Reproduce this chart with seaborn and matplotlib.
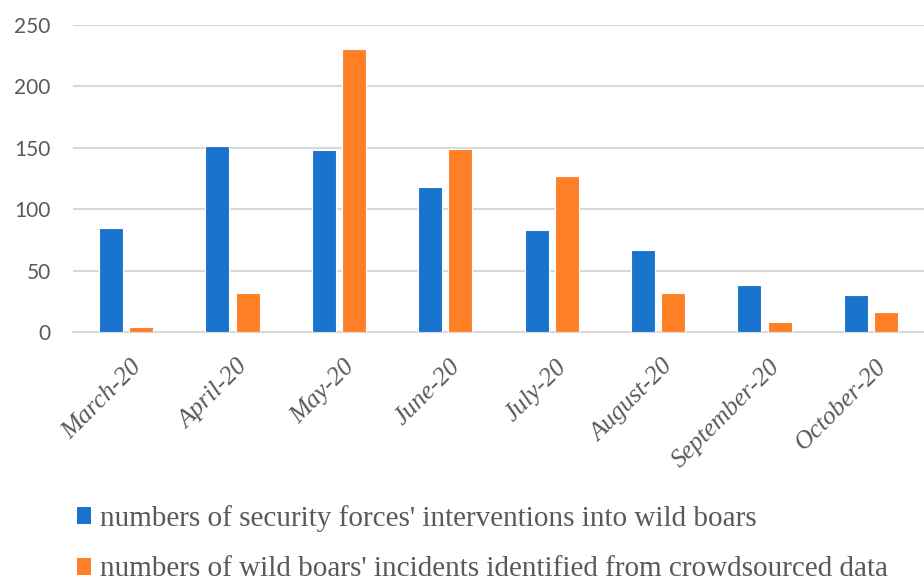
import matplotlib
matplotlib.use("Agg")
import matplotlib.pyplot as plt
import matplotlib.transforms as mtransforms
from matplotlib.patches import Patch
import seaborn as sns
import pandas as pd

months = ["March-20", "April-20", "May-20", "June-20", "July-20",
          "August-20", "September-20", "October-20"]
interventions = [85, 151, 148, 118, 83, 67, 38, 30]
incidents = [4, 32, 230, 149, 127, 32, 8, 16]
series_names = ["numbers of security forces' interventions into wild boars",
                "numbers of wild boars' incidents identified from crowdsourced data"]
colors = ["#1874cd", "#ff7f27"]
y_ticks = [0, 50, 100, 150, 200, 250]

df = pd.DataFrame({
    "month": months * 2,
    "value": interventions + incidents,
    "series": [series_names[0]] * len(months) + [series_names[1]] * len(months),
})

sns.set_theme(style="white")
grey = "#595959"

fig = plt.figure(figsize=(9.24, 5.81), dpi=100)
ax = fig.add_axes([73 / 924, 249 / 581, 851 / 924, (332 - 24.7) / 581])

sns.barplot(data=df, x="month", y="value", hue="series", order=months,
            hue_order=series_names, palette=colors, width=0.57, gap=0.21,
            edgecolor="white", linewidth=0.8, saturation=1, ax=ax,
            legend=False, zorder=3)

ax.set_ylim(0, 250)
ax.set_xlim(-0.5, len(months) - 0.5)
ax.set_yticks(y_ticks)
ax.set_yticklabels([str(t) for t in y_ticks], fontfamily="Lato",
                   fontsize=15, color=grey)
ax.yaxis.grid(True, color="#d9d9d9", linewidth=1.5, zorder=0)
ax.set_axisbelow(True)
ax.tick_params(axis="y", length=0, pad=16)

# category boundary ticks below the axis
ax.set_xticks([i - 0.5 for i in range(len(months) + 1)], minor=True)
ax.tick_params(axis="x", which="minor", length=8, width=1.5, color="#d9d9d9",
               direction="out")
ax.tick_params(axis="x", which="major", length=0, pad=17)
ax.set_xticks(range(len(months)))
ax.set_xticklabels(months, rotation=45, ha="right", va="top",
                   rotation_mode="anchor", fontfamily="Liberation Serif",
                   fontstyle="italic", fontsize=18.5, color=grey)
shift = mtransforms.ScaledTranslation(4 / 100, 0, fig.dpi_scale_trans)
for lab in ax.get_xticklabels():
    lab.set_transform(lab.get_transform() + shift)

for s in ["top", "right", "left"]:
    ax.spines[s].set_visible(False)
ax.spines["bottom"].set_color("#d9d9d9")
ax.spines["bottom"].set_linewidth(1.5)
ax.set_xlabel("")
ax.set_ylabel("")

handles = [Patch(facecolor=c, edgecolor="none") for c in colors]
fig.legend(handles, series_names, loc="upper left",
           bbox_to_anchor=(62 / 924, 1 - 490 / 581), frameon=False,
           prop={"family": "Liberation Serif", "size": 21},
           labelcolor=grey, handlelength=0.48, handleheight=0.52,
           handletextpad=0.33, labelspacing=0.85, borderpad=0)

fig.savefig("out.png", dpi=100)
